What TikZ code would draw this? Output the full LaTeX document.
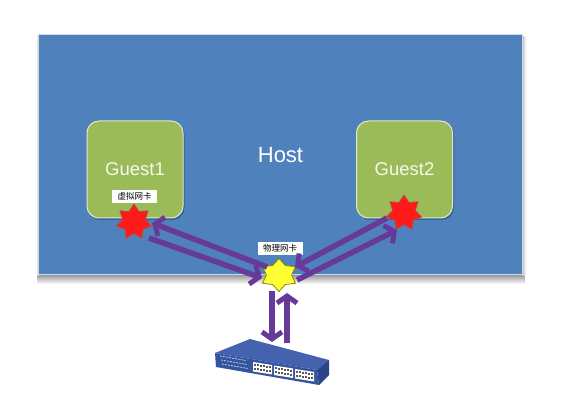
\documentclass[tikz,border=0pt]{standalone}
\usepackage{fontspec}
\setmainfont{Liberation Sans}
\newfontfamily\cjk{Noto Sans CJK SC}
\usepackage{xcolor}
\usetikzlibrary{shapes.geometric, arrows.meta}

\definecolor{hostblue}{HTML}{4F81BD}
\definecolor{guestgreen}{HTML}{9BBB59}
\definecolor{flowpurple}{HTML}{673A9A}
\definecolor{starred}{HTML}{FF1A1A}
\definecolor{staryellow}{HTML}{FFFF33}
\definecolor{switchtop}{HTML}{4462AE}
\definecolor{switchfront}{HTML}{34549F}
\definecolor{switchside}{HTML}{2A4488}

\tikzset{
    hostbox/.style={fill=hostblue, draw=white!70!hostblue, line width=1pt, minimum width=484pt, minimum height=240pt, inner sep=0pt, text=white, font=\fontsize{22}{26}\selectfont},
    guestbox/.style={fill=guestgreen, draw=white!70!guestgreen, line width=1pt, rounded corners=12pt, minimum width=96pt, minimum height=97pt, inner sep=0pt, text=white!90!guestgreen, font=\fontsize{18.5}{22}\selectfont},
    nicstar/.style={star, star point ratio=1.55, inner sep=0pt, minimum size=36pt, line width=0.8pt},
    niclabel/.style={fill=white, inner sep=0pt, minimum width=45pt, minimum height=13pt, font=\cjk\fontsize{8.5}{10}\selectfont},
    flow/.style={draw=flowpurple, line width=5.5pt, -{Straight Barb[length=7pt,width=20pt,line width=5pt]}}
}

\begin{document}
\begin{tikzpicture}[x=1pt, y=-1pt]
    \useasboundingbox (0,0) rectangle (571,406);

    % Bóng của Host
    \shade[top color=black!40, bottom color=white] (37,275) rectangle (525,284);
    \shade[left color=white, right color=black!30] (36,37) rectangle (39,276);
    \shade[left color=black!20, right color=white] (523,37) rectangle (526,276);

    % Host và các Guest
    \node[hostbox] (host) at (280.5,155) {Host};
    \fill[hostblue!75!black, rounded corners=12pt] (88,123) rectangle (184.5,220);
    \fill[hostblue!75!black, rounded corners=12pt] (358,123) rectangle (454,220);
    \node[guestbox] (guest1) at (135,169.5) {Guest1};
    \node[guestbox] (guest2) at (404.5,169.5) {Guest2};

    % Các card mạng
    \node[nicstar, star points=7, fill=starred, draw=red!60!black!70] (vnic1) at (134,222) {};
    \node[nicstar, star points=7, fill=starred, draw=red!60!black!70] (vnic2) at (404,213) {};
    \node[nicstar, star points=6, star point ratio=1.5, minimum size=33pt, xscale=1.15, transform shape, fill=staryellow, draw=olive] (pnic) at (279,275) {};
    \node[niclabel] (vlabel) at (134.5,196.5) {虚拟网卡};
    \node[niclabel] (plabel) at (280,248.5) {物理网卡};

    % Thiết bị chuyển mạch
    \node[minimum width=114pt, minimum height=46pt, inner sep=0pt] (switch) at (272,362) {};
    \fill[switchtop] (215,353) -- (250,339) -- (329,360) -- (317,370) -- cycle;
    \fill[switchfront] (215,353) -- (317,370) -- (319,385) -- (216,367) -- cycle;
    \fill[switchside] (317,370) -- (329,360) -- (329,375) -- (319,385) -- cycle;
    \foreach \bx/\by in {253/362,274/365.5,295/369} {
        \fill[white] (\bx,\by) -- (\bx+19,\by+3) -- (\bx+19,\by+12.5) -- (\bx,\by+9.5) -- cycle;
        \foreach \px in {1,...,6} {
            \fill[black!65] (\bx+\px*3-2,\by+\px*0.5+1.5) rectangle +(2,2);
            \fill[black!65] (\bx+\px*3-2,\by+\px*0.5+5.5) rectangle +(2,2);
        }
    }
    \foreach \lx in {0,1,2} {
        \draw[white!60!hostblue, line width=0.8pt, dash pattern=on 2pt off 1pt] (220+\lx*1,356+\lx*4) -- +(26,4.5);
    }

    % Các mũi tên
    \draw[flow] ([shift={(-12,-8)}]pnic.center) -- ([shift={(18,1)}]vnic1.center);
    \draw[flow] ([shift={(15,16)}]vnic1.center) -- ([shift={(-17,3)}]pnic.center);
    \draw[flow] ([shift={(-17,5)}]vnic2.center) -- ([shift={(16,-8)}]pnic.center);
    \draw[flow] ([shift={(18,5)}]pnic.center) -- ([shift={(-7,17)}]vnic2.center);
    \draw[flow] ([shift={(-7,16)}]pnic.center) -- ([shift={(0,-20)}]switch.center);
    \draw[flow] ([shift={(15,-19)}]switch.center) -- ([shift={(8,18)}]pnic.center);
\end{tikzpicture}
\end{document}
